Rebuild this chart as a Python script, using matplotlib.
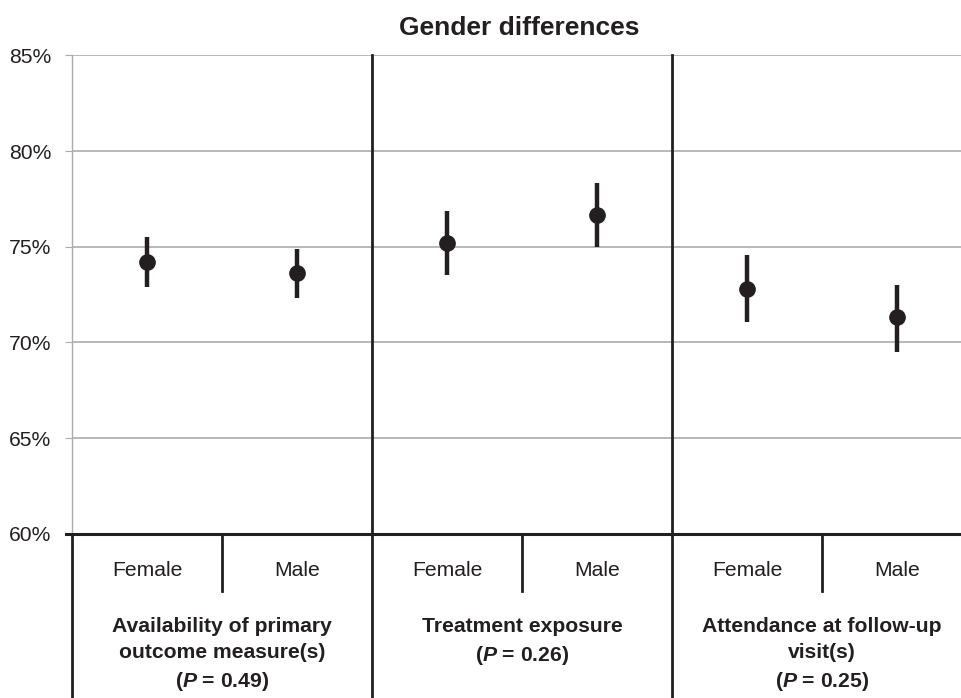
import matplotlib
matplotlib.use('Agg')
import matplotlib.pyplot as plt
import numpy as np

plt.rcParams['font.family'] = ['Liberation Sans', 'DejaVu Sans']
plt.rcParams['mathtext.fontset'] = 'custom'
plt.rcParams['mathtext.rm'] = 'Liberation Sans'
plt.rcParams['mathtext.it'] = 'Liberation Sans:italic'
plt.rcParams['mathtext.bf'] = 'Liberation Sans:bold'
plt.rcParams['mathtext.bfit'] = 'Liberation Sans:italic:bold'

# data
sexes = ['Female', 'Male', 'Female', 'Male', 'Female', 'Male']
means = [74.23, 73.64, 75.22, 76.67, 72.79, 71.32]
lower = [72.92, 72.33, 73.52, 74.98, 71.09, 69.51]
upper = [75.51, 74.90, 76.85, 78.31, 74.58, 73.01]
groups = ['Availability of primary\noutcome measure(s)',
          'Treatment exposure',
          'Attendance at follow-up\nvisit(s)']
p_values = ['0.49', '0.26', '0.25']
yticks = [60, 65, 70, 75, 80, 85]

dark = '#231f20'
grey = '#ababab'
fs = 15.2

fig = plt.figure(figsize=(9.61, 6.98), dpi=100)
W, H = 961, 698
left, right, top, bottom = 72, 961, 55.5, 533.7
ax = fig.add_axes([left / W, 1 - bottom / H, (right - left) / W, (bottom - top) / H])

x = np.arange(len(means))
m = np.array(means)
err = [m - np.array(lower), np.array(upper) - m]
ax.errorbar(x, m, yerr=err, fmt='o', color=dark, ms=11, elinewidth=3.2,
            capsize=0, zorder=5)

ax.set_ylim(60, 85)
ax.set_xlim(-0.5, -0.5 + (right - left) / 150)
ax.set_yticks(yticks)
ax.set_yticklabels([f'{t}%' for t in yticks])
ax.set_xticks([])
ax.tick_params(axis='y', length=5, width=0.8, color=grey, pad=10,
               labelsize=fs, labelcolor=dark)
for t in yticks[1:]:
    ax.axhline(t, color=grey, lw=1.2, zorder=1)
for s in ['top', 'right', 'bottom']:
    ax.spines[s].set_visible(False)
ax.spines['left'].set_color(grey)
ax.spines['left'].set_linewidth(1)

tr = ax.get_xaxis_transform()
ph = bottom - top
def ya(py):
    return -(py - bottom) / ph

# bottom baseline and table lines
ax.plot([-0.5 - 0.04, 6], [0, 0], transform=tr, color=dark, lw=2.2, clip_on=False, zorder=6)
ax.plot([-0.5, -0.5], [0, ya(720)], transform=tr, color=dark, lw=2, clip_on=False)
for xd in [1.5, 3.5]:
    ax.plot([xd, xd], [1, ya(720)], transform=tr, color=dark, lw=2, clip_on=False, zorder=6)
for xd in [0.5, 2.5, 4.5]:
    ax.plot([xd, xd], [0, ya(591)], transform=tr, color=dark, lw=2, clip_on=False)

for i, s in enumerate(sexes):
    ax.text(i, ya(571), s, transform=tr, ha='center', va='center',
            fontsize=fs, color=dark)

for g, (name, p) in enumerate(zip(groups, p_values)):
    label = name + '\n' + r'($\mathbfit{P}$ = ' + p + ')'
    ax.text(2 * g + 0.5, ya(617), label, transform=tr, ha='center', va='top',
            fontsize=fs, fontweight='bold', color=dark, linespacing=1.48)

fig.text(519 / W, 1 - 28 / H, 'Gender differences', ha='center', va='center',
         fontsize=19, fontweight='bold', color=dark)

fig.savefig('out.png', dpi=100)
